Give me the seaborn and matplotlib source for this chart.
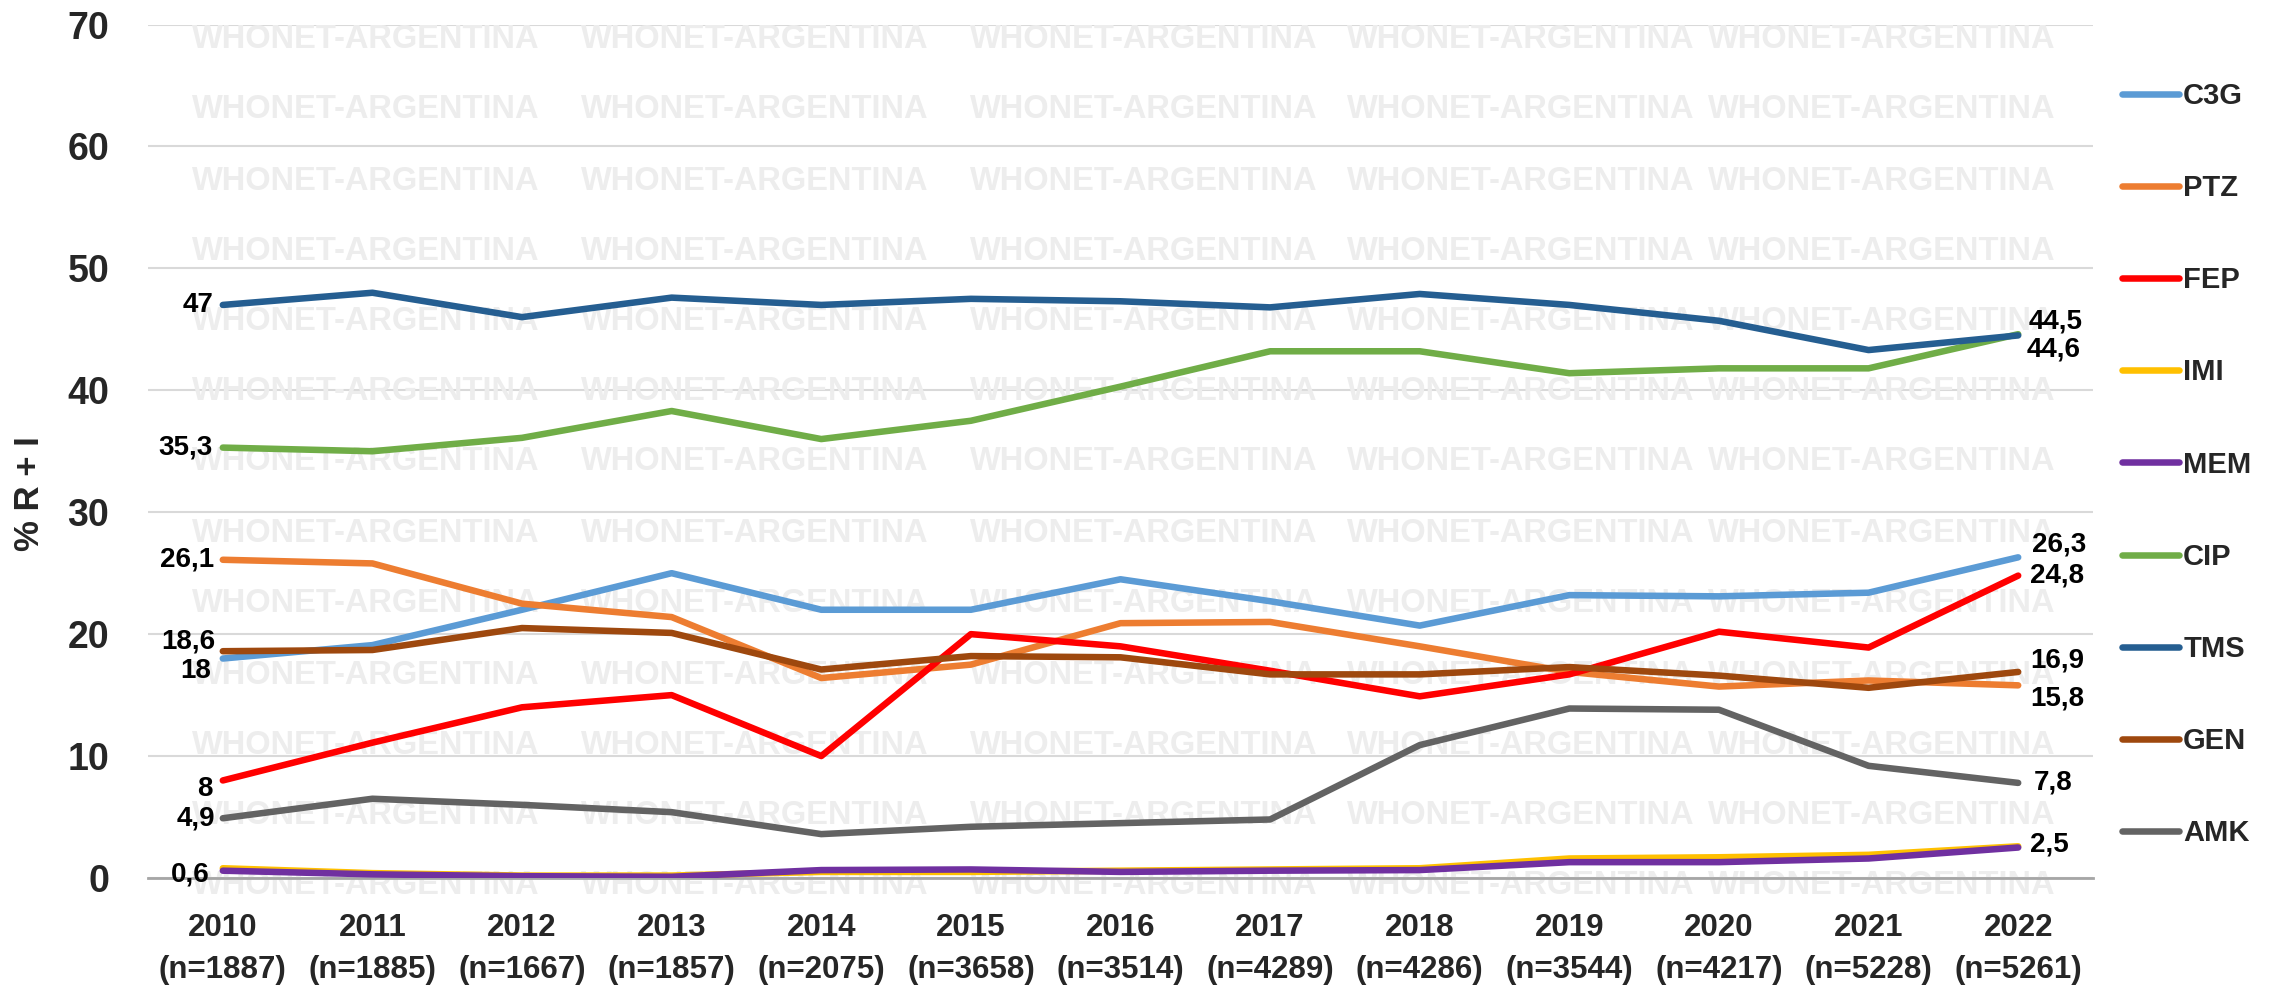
import matplotlib
matplotlib.use("Agg")
import matplotlib.pyplot as plt
import seaborn as sns
import pandas as pd

# ------------------------------------------------------------------
# data (% R + I per antibiotic and year)
years = [2010, 2011, 2012, 2013, 2014, 2015, 2016, 2017, 2018, 2019, 2020, 2021, 2022]
n_isolates = [1887, 1885, 1667, 1857, 2075, 3658, 3514, 4289, 4286, 3544, 4217, 5228, 5261]

c3g = [18.0, 19.1, 22.0, 25.0, 22.0, 22.0, 24.5, 22.7, 20.7, 23.2, 23.1, 23.4, 26.3]
ptz = [26.1, 25.8, 22.5, 21.4, 16.4, 17.5, 20.9, 21.0, 19.0, 16.9, 15.7, 16.2, 15.8]
fep = [8.0, 11.1, 14.0, 15.0, 10.0, 20.0, 19.0, 17.0, 14.9, 16.7, 20.2, 18.9, 24.8]
imi = [0.8, 0.4, 0.2, 0.2, 0.5, 0.5, 0.6, 0.7, 0.8, 1.6, 1.7, 1.9, 2.6]
mem = [0.6, 0.3, 0.15, 0.1, 0.65, 0.7, 0.5, 0.6, 0.65, 1.3, 1.3, 1.6, 2.5]
cip = [35.3, 35.0, 36.1, 38.3, 36.0, 37.5, 40.3, 43.2, 43.2, 41.4, 41.8, 41.8, 44.6]
tms = [47.0, 48.0, 46.0, 47.6, 47.0, 47.5, 47.3, 46.8, 47.9, 47.0, 45.7, 43.3, 44.5]
gen = [18.6, 18.7, 20.5, 20.1, 17.1, 18.2, 18.1, 16.7, 16.7, 17.3, 16.6, 15.6, 16.9]
amk = [4.9, 6.5, 6.0, 5.4, 3.6, 4.2, 4.5, 4.8, 10.9, 13.9, 13.8, 9.2, 7.8]

drugs = ["C3G", "PTZ", "FEP", "IMI", "MEM", "CIP", "TMS", "GEN", "AMK"]
series = [c3g, ptz, fep, imi, mem, cip, tms, gen, amk]
colors = ["#5B9BD5", "#ED7D31", "#FF0000", "#FFC000", "#7030A0",
          "#70AD47", "#255E91", "#9E480E", "#636363"]
# ------------------------------------------------------------------

rows = []
for drug, vals in zip(drugs, series):
    for i, v in enumerate(vals):
        rows.append({"idx": i, "year": years[i], "drug": drug, "value": v})
df = pd.DataFrame(rows)

sns.set_style("white")
plt.rcParams["font.family"] = ["Liberation Sans", "DejaVu Sans"]
plt.rcParams["font.weight"] = "bold"

W, H = 2284, 992
fig = plt.figure(figsize=(W / 100, H / 100), dpi=100)
ax = fig.add_axes([148 / W, 1 - 878 / H, (2093 - 148) / W, (878 - 24.5) / H])

sns.lineplot(data=df, x="idx", y="value", hue="drug", hue_order=drugs,
             palette=colors, estimator=None, sort=False, linewidth=4.7,
             solid_capstyle="round", solid_joinstyle="round", ax=ax, zorder=3)

ax.set_xlim(-0.5, 12.5)
ax.set_ylim(0, 70)
ax.set_yticks(range(0, 71, 10))
ax.set_xticks(range(len(years)))
ax.set_xticklabels([f"{y}\n(n={n})" for y, n in zip(years, n_isolates)],
                   fontsize=22.5, fontweight="bold", linespacing=1.55)
ax.tick_params(axis="x", length=0, pad=25)
ax.tick_params(axis="y", length=0, pad=28, labelsize=27)
for lab in ax.get_yticklabels():
    lab.set_fontweight("bold")
ax.set_xlabel("")
ax.set_ylabel("% R + I", fontsize=25, fontweight="bold")
ax.yaxis.set_label_coords(-(148 - 46) / (2093 - 148), 1 - (494 - 24.5) / (878 - 24.5))

ax.grid(axis="y", color="#D9D9D9", linewidth=1.5)
ax.set_axisbelow(True)
for s in ["top", "right", "left"]:
    ax.spines[s].set_visible(False)
ax.spines["bottom"].set_color("#A6A6A6")
ax.spines["bottom"].set_linewidth(2)

# watermark tiles
wm_x = [192, 581, 970, 1347, 1708]
wm_y = [40, 110, 181, 252, 322, 392, 462, 533, 604, 675, 745, 816, 886]
for yy in wm_y:
    for xx in wm_x:
        ax.text(xx / W, 1 - yy / H, "WHONET-ARGENTINA", transform=fig.transFigure,
                fontsize=23.5, fontweight="bold", color="#EDEDED",
                ha="left", va="center", zorder=1)

# data labels at first and last year: (drug, index, dx px, dy px, ha)
labels = [
    ("TMS", 0, -9, 0, "right"), ("CIP", 0, -10, 0, "right"),
    ("PTZ", 0, -9, 0, "right"), ("GEN", 0, -7, 10, "right"),
    ("C3G", 0, -12, -12, "right"), ("FEP", 0, -10, -9, "right"),
    ("AMK", 0, -8, 0, "right"), ("MEM", 0, -13, -4, "right"),
    ("TMS", 12, 10, 14, "left"), ("CIP", 12, 8, -15, "left"),
    ("C3G", 12, 14, 13, "left"), ("FEP", 12, 12, 0, "left"),
    ("GEN", 12, 12, 11, "left"), ("PTZ", 12, 12, -13, "left"),
    ("AMK", 12, 16, 0, "left"), ("MEM", 12, 12, 3, "left"),
]
for drug, i, dx, dy, ha in labels:
    v = series[drugs.index(drug)][i]
    txt = f"{v:g}".replace(".", ",")
    ax.annotate(txt, (i, v), xytext=(dx, dy), textcoords="offset pixels",
                ha=ha, va="center", fontsize=20, fontweight="bold",
                color="black", zorder=5)

handles, labs = ax.get_legend_handles_labels()
leg = ax.legend(handles, labs, loc="upper left",
                bbox_to_anchor=(2122 / W, 1 - 82 / H), bbox_transform=fig.transFigure,
                frameon=False, fontsize=21, handlelength=1.95, handletextpad=0.15,
                labelspacing=2.2, borderpad=0, borderaxespad=0)
for line in leg.get_lines():
    line.set_linewidth(4.7)
    line.set_solid_capstyle("round")
for t in leg.get_texts():
    t.set_fontweight("bold")

fig.savefig("out.png", dpi=100)
